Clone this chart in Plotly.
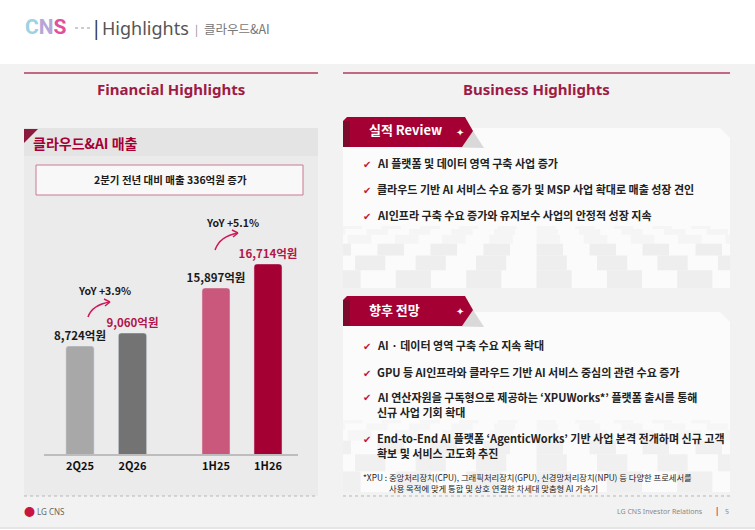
import plotly.graph_objects as go

W, H = 755, 530
FONT = "Noto Sans CJK KR"

# ---------------- data ----------------
quarters = ["2Q25", "2Q26"]
quarter_sales = [8724, 9060]
halves = ["1H25", "1H26"]
half_sales = [15897, 16714]
yoy_labels = ["YoY +3.9%", "YoY +5.1%"]
summary_text = "2분기 전년 대비 매출 336억원 증가"
review_items = [
    "AI 플랫폼 및 데이터 영역 구축 사업 증가",
    "클라우드 기반 AI 서비스 수요 증가 및 MSP 사업 확대로 매출 성장 견인",
    "AI인프라 구축 수요 증가와 유지보수 사업의 안정적 성장 지속",
]
outlook_items = [
    ["AI · 데이터 영역 구축 수요 지속 확대"],
    ["GPU 등 AI인프라와 클라우드 기반 AI 서비스 중심의 관련 수요 증가"],
    ["AI 연산자원을 구독형으로 제공하는 ‘XPUWorks*’ 플랫폼 출시를 통해", "신규 사업 기회 확대"],
    ["End-to-End AI 플랫폼 ‘AgenticWorks’ 기반 사업 본격 전개하며 신규 고객", "확보 및 서비스 고도화 추진"],
]
footnote = ["*XPU : 중앙처리장치(CPU), 그래픽처리장치(GPU), 신경망처리장치(NPU) 등 다양한 프로세서를",
            "사용 목적에 맞게 통합 및 상호 연결한 차세대 맞춤형 AI 가속기"]


def X(p):
    return p / W


def Y(p):
    return 1 - p / H


CRIMSON = "#a50034"

fig = go.Figure()

label_font = dict(family=FONT, size=11.5, color=["#1a1a1a", "#b0164a"], weight="bold")
fig.add_trace(go.Bar(
    x=quarters, y=quarter_sales, xaxis="x", yaxis="y",
    marker=dict(color=["#a8a8a8", "#737373"], cornerradius=3),
    width=0.54, texttemplate="%{y:,}억원", textposition="outside",
    constraintext="none", textfont=label_font, hoverinfo="skip",
))
fig.add_trace(go.Bar(
    x=halves, y=half_sales, xaxis="x2", yaxis="y2",
    marker=dict(color=["#c9587c", CRIMSON], cornerradius=3),
    width=0.54, texttemplate="%{y:,}억원", textposition="outside",
    constraintext="none", textfont=label_font, hoverinfo="skip",
))

ydom = [Y(455), Y(200)]
tickfont = dict(family=FONT, size=11, color="#111", weight="bold")
fig.update_layout(
    width=W, height=H, margin=dict(l=0, r=0, t=0, b=0),
    paper_bgcolor="white", plot_bgcolor="rgba(0,0,0,0)",
    showlegend=False, hovermode=False,
    font=dict(family=FONT),
    xaxis=dict(domain=[X(27.5), X(185)], range=[-1, 2], anchor="y", type="category",
               showgrid=False, zeroline=False, showline=False, ticks="",
               tickfont=tickfont, fixedrange=True, ticklabelstandoff=3),
    yaxis=dict(domain=ydom, range=[5907, 12496], visible=False, fixedrange=True),
    xaxis2=dict(domain=[X(164), X(320)], range=[-1, 2], anchor="y2", type="category",
                showgrid=False, zeroline=False, showline=False, ticks="",
                tickfont=tickfont, fixedrange=True, ticklabelstandoff=3),
    yaxis2=dict(domain=ydom, range=[10215, 18888], visible=False, fixedrange=True),
)

shapes = []


def rect(x0, y0, x1, y1, fill, line=None, lw=0, layer="below", dash=None):
    shapes.append(dict(type="rect", xref="paper", yref="paper",
                       x0=X(x0), x1=X(x1), y0=Y(y0), y1=Y(y1),
                       fillcolor=fill, layer=layer,
                       line=dict(color=line or "rgba(0,0,0,0)", width=lw, dash=dash)))


def line(x0, y0, x1, y1, color, width=1, dash=None, layer="below"):
    shapes.append(dict(type="line", xref="paper", yref="paper",
                       x0=X(x0), x1=X(x1), y0=Y(y0), y1=Y(y1), layer=layer,
                       line=dict(color=color, width=width, dash=dash)))


def poly(pts, fill, layer="below", lc=None, lw=0):
    d = "M " + " L ".join(f"{X(a):.5f},{Y(b):.5f}" for a, b in pts) + " Z"
    shapes.append(dict(type="path", xref="paper", yref="paper", path=d,
                       fillcolor=fill, layer=layer,
                       line=dict(color=lc or "rgba(0,0,0,0)", width=lw)))


def curve(p0, c, p1, head, color, width=1.5):
    d = (f"M {X(p0[0]):.5f},{Y(p0[1]):.5f} Q {X(c[0]):.5f},{Y(c[1]):.5f} "
         f"{X(p1[0]):.5f},{Y(p1[1]):.5f}")
    shapes.append(dict(type="path", xref="paper", yref="paper", path=d,
                       layer="above", line=dict(color=color, width=width)))
    for h in head:
        d2 = f"M {X(p1[0]):.5f},{Y(p1[1]):.5f} L {X(h[0]):.5f},{Y(h[1]):.5f}"
        shapes.append(dict(type="path", xref="paper", yref="paper", path=d2,
                           layer="above", line=dict(color=color, width=width)))


def checker(x0, x1, y0, y1, rows, top_n, bot_n, c_light, c_dark):
    """perspective-like checkerboard band (decorative)."""
    yy = y0
    hs = [1 + k for k in range(rows)]
    scale = (y1 - y0) / sum(hs)
    cx = (x0 + x1) / 2
    for r in range(rows):
        h = hs[r] * scale
        n = top_n - (top_n - bot_n) * r / max(rows - 1, 1)
        cw = (x1 - x0) / n
        k = 0
        xs = cx - cw * (int(n / 2) + 2)
        while xs < x1:
            xa, xb = max(xs, x0), min(xs + cw, x1)
            if xb > xa and (k + r) % 2 == 0:
                rect(xa, yy, xb, yy + h, c_dark if r > rows / 3 else c_light)
            xs += cw
            k += 1
        yy += h


# page background
rect(0, 64, 755, 527, "#f2f2f2")
line(0, 528, 755, 528, "#dddddd", 1.5)

# left panel
line(24, 73, 318, 73, "#b03a5c", 1.5)
rect(24, 128, 318, 156, "#e4e4e4")
rect(24, 156, 318, 496, "#ebebeb")
poly([(24, 129), (38, 129), (24, 143)], "#8c1a3c")
rect(36, 165, 303, 195, "#f8f8f8", "#c97a92", 1)
line(44, 455, 298, 455, "#bdbdbd", 2, layer="above")
line(24, 496, 318, 496, "#b5b5b5", 1, dash="dot")

# right panel
line(343, 73, 730, 73, "#b03a5c", 1.5)
poly([(343, 128), (720, 128), (730, 138), (730, 288), (343, 288)], "#fbfbfb")
checker(343, 730, 226, 288, 6, 20, 11, "#f5f5f5", "#eeeeee")
poly([(343, 312), (720, 312), (730, 322), (730, 492), (343, 492)], "#fbfbfb")
checker(343, 730, 420, 492, 6, 20, 11, "#f6f6f6", "#f0f0f0")
line(343, 496, 730, 496, "#b5b5b5", 1, dash="dot")

# tabs
for t, b in [(117, 147), (296, 326)]:
    poly([(440, b), (484, b + 1), (473, t + 14)], "#d9d9d9")
    poly([(343, t + 4), (347, t), (465, t), (473, t + 14), (462, b), (343, b)], CRIMSON)
    poly([(343, t + 4), (350, t + 4), (350, b), (343, b)], "#7d0a2c")

# header dotted line
line(75, 28, 92, 28, "#999999", 1, dash="dot", layer="above")

# arrows
curve((88, 317), (92, 305), (110, 302), [(104, 299), (105, 306)], "#d0185a")
curve((215, 250), (220, 236), (238, 233), [(232, 230), (233, 237)], "#d0185a")

fig.update_layout(shapes=shapes)

ann = []


def txt(x, y, s, size, color="#222", bold=False, xanchor="center", family=FONT):
    ann.append(dict(xref="paper", yref="paper", x=X(x), y=Y(y), text=s,
                    showarrow=False, xanchor=xanchor, yanchor="middle",
                    font=dict(family=family, size=size, color=color,
                              weight="bold" if bold else "normal")))


# header
txt(46, 27, "<span style='color:#9ad3e2'>C</span><span style='color:#b6a6d8'>N</span>"
    "<span style='color:#e24f9b'>S</span>", 21, bold=True, family="Roboto")
txt(96, 28, "|", 19, "#333", family="Noto Sans")
txt(100, 28, "Highlights", 18, "#555", xanchor="left", family="Noto Sans")
txt(196, 29, "|", 11, "#888")
txt(202, 29, "클라우드&AI", 12.5, "#777", xanchor="left")

# section titles
txt(171, 89, "Financial Highlights", 15, "#9e1b45", bold=True, family="Noto Sans")
txt(536, 89, "Business Highlights", 15, "#9e1b45", bold=True, family="Noto Sans")

txt(31, 143, "클라우드&AI 매출", 14, CRIMSON, bold=True, xanchor="left")
txt(170, 180, summary_text, 10.5, "#1a1a1a", bold=True)

# YoY labels
txt(104, 290, yoy_labels[0], 10.5, "#1a1a1a", bold=True)
txt(232, 222, yoy_labels[1], 10.5, "#1a1a1a", bold=True)

# tabs text
txt(367, 130, "실적 Review", 13, "white", bold=True, xanchor="left")
txt(367, 309, "향후 전망", 13, "white", bold=True, xanchor="left")
txt(460, 131, "✦", 10, "white")
txt(460, 310, "✦", 10, "white")

CHECK = "✔"
for i, s in enumerate(review_items):
    yy = 163 + i * 26
    txt(367, yy, CHECK, 10, "#c8143f")
    txt(375, yy, s, 11, "#222", bold=True, xanchor="left")

ys = [345, 372, 397, 438]
for i, item in enumerate(outlook_items):
    txt(367, ys[i], CHECK, 10, "#c8143f")
    for j, s in enumerate(item):
        txt(375, ys[i] + j * 15, s, 11, "#222", bold=True, xanchor="left")

txt(361, 477, footnote[0], 8.3, "#222", xanchor="left")
txt(387, 488, footnote[1], 8.3, "#222", xanchor="left")

# footer
txt(29, 511, "●", 11, "#c8143f")
txt(35, 511, "LG CNS", 8, "#666", xanchor="left", family="Noto Sans")
txt(705, 511, "LG CNS Investor Relations", 7, "#888", xanchor="right", family="Noto Sans")
txt(717, 511, "|", 8, "#c8143f", bold=True)
txt(727, 511, "5", 7, "#888")

fig.update_layout(annotations=ann)
fig.write_html("out.html", config={"displayModeBar": False},
               post_script="document.body.style.margin='0';")
